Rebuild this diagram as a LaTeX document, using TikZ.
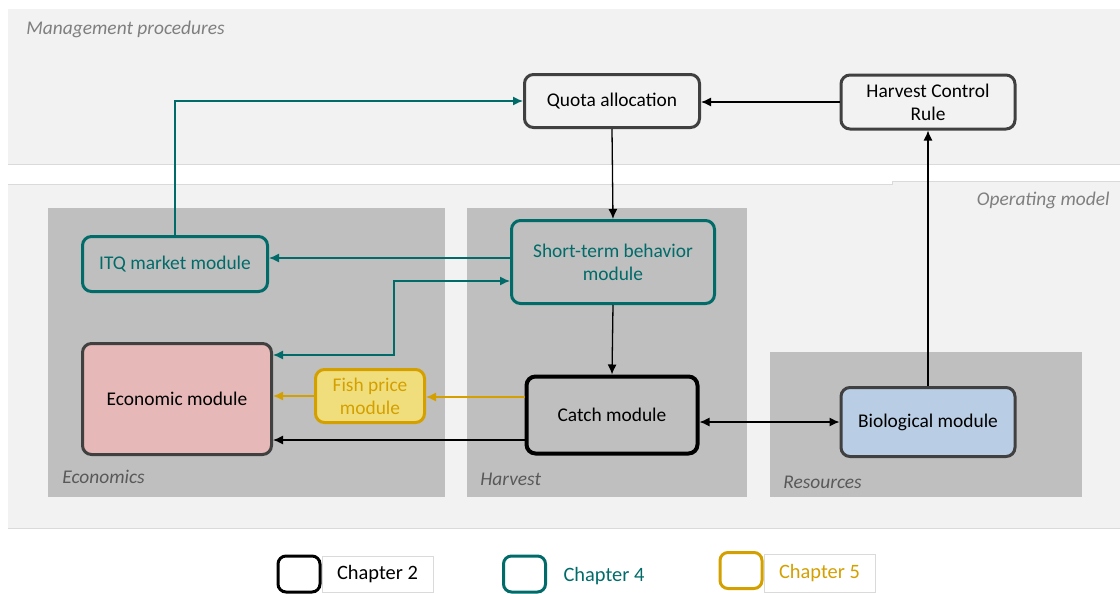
\documentclass[tikz,border=0pt]{standalone}
\usepackage{fontspec}
\setmainfont{Carlito}
\usepackage{tikz}
\usetikzlibrary{arrows.meta,backgrounds}

\definecolor{bandgray}{HTML}{F2F2F2}
\definecolor{bandline}{HTML}{DADADA}
\definecolor{panelgray}{HTML}{BFBFBF}
\definecolor{darkline}{HTML}{404040}
\definecolor{labelgray}{HTML}{7F7F7F}
\definecolor{panellabel}{HTML}{595959}
\definecolor{chfour}{RGB}{0,107,105}
\definecolor{chfive}{RGB}{212,160,0}
\definecolor{fishfill}{RGB}{240,222,125}
\definecolor{econfill}{HTML}{E6B8B7}
\definecolor{biofill}{HTML}{B9CDE5}

\begin{document}
\begin{tikzpicture}
	[x=0.5pt,y=-0.5pt,
	 mod/.style={draw=darkline,line width=1.5pt,rounded corners=4.5pt,align=center,inner sep=0pt,
		font=\fontsize{9.7}{11.6}\selectfont},
	 modfour/.style={mod,draw=chfour,text=chfour},
	 modfive/.style={mod,draw=chfive,text=chfive,fill=fishfill},
	 area/.style={font=\fontsize{9.7}{11}\selectfont\itshape,text=panellabel,anchor=west,inner sep=0pt},
	 link/.style={line width=0.65pt,-{Latex[length=5pt,width=4.5pt]}},
	 linkfour/.style={link,draw=chfour},
	 linkfive/.style={link,draw=chfive},
	 keybox/.style={line width=1.5pt,rounded corners=4pt,minimum width=21pt,minimum height=18pt,inner sep=0pt},
	 keytext/.style={font=\fontsize{10.2}{11}\selectfont,minimum width=55.5pt,minimum height=18pt,inner sep=0pt}]

	\useasboundingbox (0,0) rectangle (1120,594);

	% bands
	\fill[bandgray] (8,9) rectangle (1120,164);
	\draw[bandline,line width=0.5pt] (8,164) -- (1120,164);
	\fill[bandgray] (8,184) rectangle (1120,528);
	\fill[bandgray] (892,181) rectangle (1120,184);
	\draw[bandline,line width=0.5pt] (8,184) -- (892,184) |- (1120,181);
	\draw[bandline,line width=0.5pt] (8,528) -- (1120,528);
	\node[area,text=labelgray] (mp) at (26,29) {Management procedures};
	\node[area,text=labelgray,anchor=east] (om) at (1110,200) {Operating model};

	% panels
	\fill[panelgray] (48,208) rectangle (445,497);
	\fill[panelgray] (467,208) rectangle (747,497);
	\fill[panelgray] (770,352) rectangle (1082,497);
	\node[area] (ecolab) at (62,477) {Economics};
	\node[area] (harlab) at (480,479) {Harvest};
	\node[area] (reslab) at (783,482) {Resources};

	% modules
	\node[mod,fill=bandgray,minimum width=87.5pt,minimum height=26.5pt] (quota) at (612,101) {Quota allocation};
	\node[mod,fill=bandgray,minimum width=87pt,minimum height=27pt] (hcr) at (928,102) {Harvest Control\\Rule};
	\node[modfour,minimum width=92.5pt,minimum height=27.5pt] (itq) at (175,264) {ITQ market module};
	\node[modfour,minimum width=101.5pt,minimum height=41.5pt] (stb) at (613,262) {Short-term behavior\\module};
	\node[mod,fill=econfill,minimum width=94.5pt,minimum height=55.5pt] (econ) at (177,399) {Economic module};
	\node[modfive,minimum width=54.5pt,minimum height=26.5pt] (fish) at (370,396) {Fish price\\module};
	\node[mod,draw=black,line width=2pt,minimum width=85.5pt,minimum height=38.5pt] (catch) at (612,415) {Catch module};
	\node[mod,fill=biofill,minimum width=87pt,minimum height=34.5pt] (bio) at (928,422) {Biological module};

	% connectors
	\draw[linkfour] (itq.north) |- (quota.west);
	\draw[link] (hcr.west) -- (hcr.west -| quota.east);
	\draw[link] (quota.south) -- (stb.north);
	\draw[linkfour] ([yshift=2pt]stb.west) -- ([yshift=2pt]stb.west -| itq.east);
	\draw[linkfour,{Latex[length=5pt,width=4.5pt]}-{Latex[length=5pt,width=4.5pt]}]
		([yshift=22pt]econ.east) -- ++(121,0) |- ([yshift=-9.5pt]stb.west);
	\draw[link] (stb.south) -- (catch.north);
	\draw[linkfive] ([yshift=9pt]catch.west) -- ([yshift=9pt]catch.west -| fish.east);
	\draw[linkfive] (fish.west) -- (fish.west -| econ.east);
	\draw[link] ([yshift=-12.5pt]catch.west) -- ([yshift=-12.5pt]catch.west -| econ.east);
	\draw[link,{Latex[length=5pt,width=4.5pt]}-{Latex[length=5pt,width=4.5pt]}] (bio.west -| catch.east) -- (bio.west);
	\draw[link] (bio.north) -- (hcr.south);

	% legend
	\node[keybox,draw=black] (key2) at (299,574) {};
	\node[keytext,draw=bandline,line width=0.5pt,fill=white] (txt2) at (377.5,574) {Chapter 2};
	\node[keybox,draw=chfour] (key4) at (524.5,574) {};
	\node[keytext,text=chfour] (txt4) at (604,576) {Chapter 4};
	\node[keybox,draw=chfive] (key5) at (741,570.5) {};
	\node[keytext,draw=bandline,line width=0.5pt,fill=white,text=chfive,minimum height=19pt] (txt5) at (819.5,573) {Chapter 5};

\end{tikzpicture}
\end{document}
